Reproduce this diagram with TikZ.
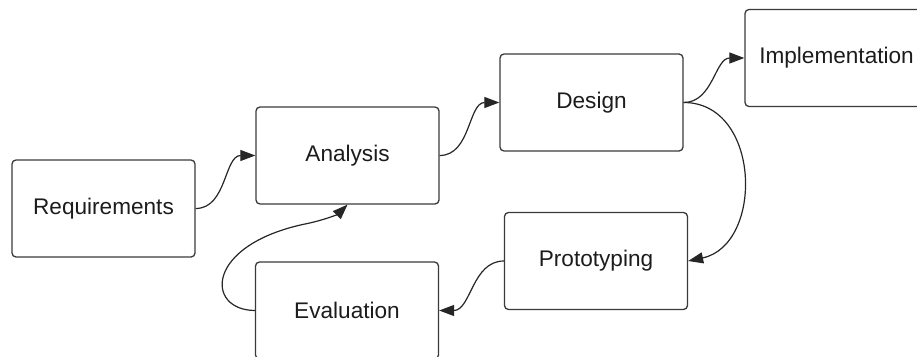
\documentclass[tikz,border=0pt]{standalone}
\usepackage{fontspec}
\setmainfont{Liberation Sans}
\usetikzlibrary{arrows.meta}
\definecolor{boxline}{HTML}{3A3A3A}
\definecolor{inktext}{HTML}{1C1C1C}
\begin{document}
\begin{tikzpicture}[x=1pt,y=-1pt,
  stagebox/.style={draw=boxline, line width=1.3pt, rounded corners=4pt,
    minimum width=183pt, minimum height=97pt, inner sep=0pt,
    text=inktext, font=\fontsize{22.6}{27}\selectfont},
  flow/.style={draw=black!85, line width=1.2pt,
    -{Triangle[length=15pt,width=11pt]}}]
  \useasboundingbox (0,0) rectangle (917,356);
  \clip (0,0) rectangle (917,356);

  \node[stagebox] (req) at (103.5,208.5) {Requirements};
  \node[stagebox] (ana) at (347.5,155.5) {Analysis};
  \node[stagebox] (des) at (591.5,102.5) {Design};
  \node[stagebox] (imp) at (836.5,58) {Implementation};
  \node[stagebox] (pro) at (596,261) {Prototyping};
  \node[stagebox] (eva) at (347,310.5) {Evaluation};

  % bend of the feedback loop from Evaluation back to Analysis
  \coordinate (loopbend) at (305,224);

  \draw[flow] (req.east) to[out=0,in=180] (ana.west);
  \draw[flow] (ana.east) to[out=0,in=180] (des.west);
  \draw[flow] (des.east) to[out=0,in=180] (imp.west);
  \draw[flow] (des.east) to[out=0,in=12,looseness=1.25] (pro.east);
  \draw[flow] (pro.west) to[out=180,in=0] (eva.east);
  \draw[flow] (eva.west) .. controls (205,310) and (205,245) .. (loopbend)
    .. controls (325,220) and (338,214) .. (ana.south);
\end{tikzpicture}
\end{document}
